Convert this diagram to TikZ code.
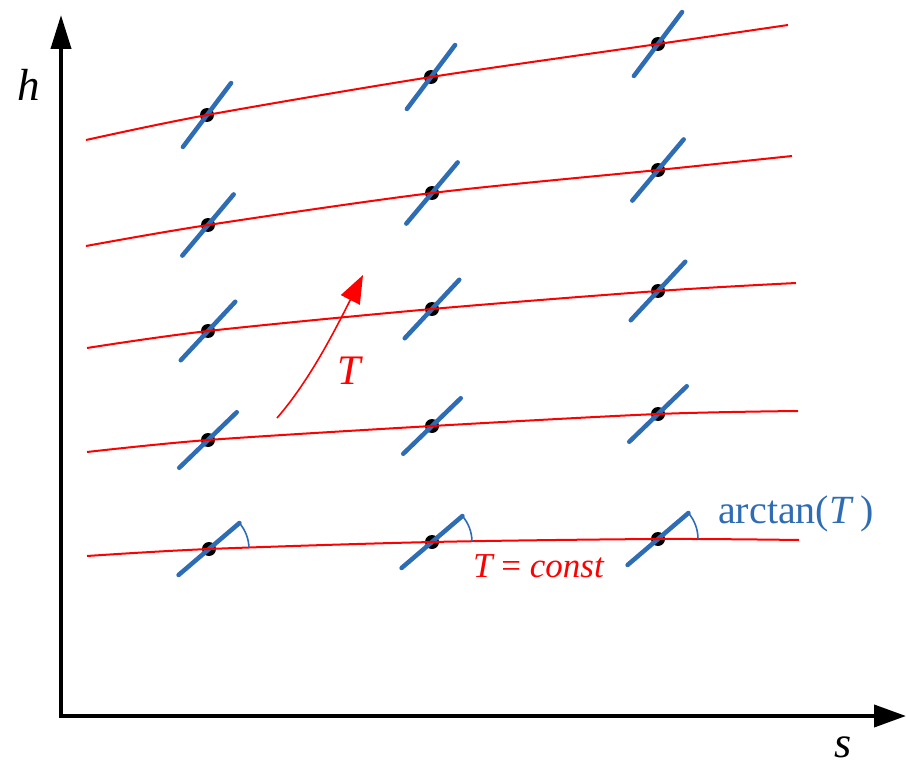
\documentclass[tikz,border=0pt]{standalone}
\usepackage{fontspec}
\setmainfont{Liberation Serif}
\usetikzlibrary{arrows.meta,calc}
\definecolor{myblue}{RGB}{46,108,180}
\definecolor{myred}{RGB}{255,0,0}
\begin{document}
\begin{tikzpicture}[x=1pt,y=-1pt,
  axisline/.style={line width=4pt,{Triangle[length=34pt,width=20pt]}-{Triangle[length=32pt,width=22pt]}},
  iso/.style={myred, line width=2pt},
  tang/.style={myblue, line width=4.5pt, line cap=round},
  dotnode/.style={circle, fill=black, inner sep=0pt, minimum size=14pt},
  angarc/.style={myblue, line width=1.6pt},
  lbl/.style={inner sep=0pt},
  ]
\useasboundingbox (0,0) rectangle (906,768);
% axes
\coordinate (ytip) at (61,15);
\coordinate (origin) at (61,716);
\coordinate (xtip) at (906,716);
\draw[axisline] (ytip) |- (xtip);
\node[lbl, anchor=base] (hlabel) at (29,100) {\fontsize{45}{45}\selectfont\itshape h};
\node[lbl, anchor=base] (slabel) at (843,757) {\fontsize{44}{44}\selectfont\itshape s};
% isotherms with tangent isobars
\foreach \r/\ang/\sx/\sy/\ax/\ay/\bx/\by/\cx/\cy/\ex/\ey in {
1/53/86/140/207/115/431/77/658/44/788/25,
2/50/86/246/208/225/432/193/658/170/792/156,
3/47/87/348/208/331/432/309/658/291/796/283,
4/44/87/452/208/440/432/426/658/414/798/411,
5/40.5/87/556/209/549/432/542/658/539/799/540}{
  \coordinate (s\r) at (\sx,\sy);
  \coordinate (a\r) at (\ax,\ay);
  \coordinate (b\r) at (\bx,\by);
  \coordinate (c\r) at (\cx,\cy);
  \coordinate (e\r) at (\ex,\ey);
  \foreach \p in {a,b,c}{
    \node[dotnode] (\p\r dot) at (\p\r) {};
    \draw[tang] ($(\p\r)+(-\ang:-40)$) -- ($(\p\r)+(-\ang:40)$);
  }
  \draw[iso] plot[smooth] coordinates {(s\r) (a\r) (b\r) (c\r) (e\r)};
}
% angle arcs on the lowest isotherm
\foreach \p/\st in {a/-2,b/-1.3,c/-0.5}{
  \draw[angarc] ($(\p5)+(\st:40)$) arc[start angle=\st, end angle=-40.5, radius=40];
}
% temperature arrow
\coordinate (tstart) at (277,418);
\coordinate (tend) at (363,275);
\draw[myred, line width=1.6pt, -{Triangle[length=28pt,width=21pt]}] (tstart) .. controls (310,380) and (335,330) .. (tend);
\node[lbl, myred] (tlabel) at (349,371) {\fontsize{42}{42}\selectfont\itshape T};
% labels
\node[lbl, anchor=base west, myred] (constlabel) at (473,577) {\fontsize{35}{35}\selectfont\itshape T {\upshape =} const};
\node[lbl, anchor=base west, myblue] (arclabel) at (718,523) {\fontsize{40}{40}\selectfont arctan(\textit{T}\,)};
\end{tikzpicture}
\end{document}
